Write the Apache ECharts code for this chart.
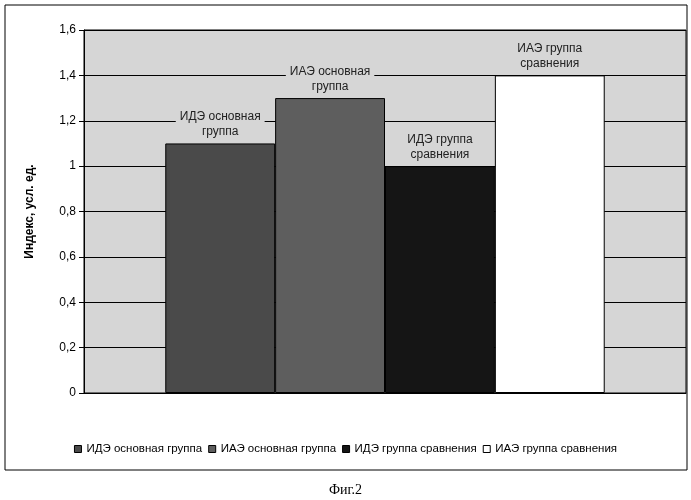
<!DOCTYPE html>
<html><head><meta charset="utf-8">
<script src="https://cdn.jsdelivr.net/npm/echarts@6/dist/echarts.min.js"></script>
<style>html,body{margin:0;padding:0;background:#fff}#c{width:691px;height:500px}</style>
</head><body><div id="c"></div>
<script>
const seriesNames = ['ИДЭ основная группа','ИАЭ основная группа','ИДЭ группа сравнения','ИАЭ группа сравнения'];
const labelTexts = ['ИДЭ основная\nгруппа','ИАЭ основная\nгруппа','ИДЭ группа\nсравнения','ИАЭ группа\nсравнения'];
const values = [1.1, 1.3, 1.0, 1.4];
const colors = ['#4a4a4a','#5e5e5e','#151515','#ffffff'];
const yTicks = [0,0.2,0.4,0.6,0.8,1,1.2,1.4,1.6];
const chart = echarts.init(document.getElementById('c'));
chart.setOption({
  animation:false,
  textStyle:{fontFamily:'Liberation Sans'},
  graphic:[{type:'rect',shape:{x:5,y:5,width:682,height:465},style:{fill:null,stroke:'#000',lineWidth:1}}],
  title:{text:'Фиг.2',left:'center',top:478,textStyle:{fontFamily:'Liberation Serif',fontWeight:'normal',fontSize:14,color:'#000'}},
  legend:{bottom:40,left:'center',itemWidth:7,itemHeight:7,itemGap:6,icon:'rect',
    textStyle:{fontSize:11.5,color:'#000'},
    itemStyle:{borderColor:'#000',borderWidth:1},
    data:seriesNames},
  grid:{left:84,right:5,top:30,bottom:107,show:true,backgroundColor:'#d6d6d6',borderColor:'#000',borderWidth:1},
  xAxis:{type:'category',data:[''],axisTick:{show:false},axisLabel:{show:false},axisLine:{lineStyle:{color:'#000'}}},
  yAxis:{type:'value',min:0,max:1.6,interval:0.2,
    name:'Индекс, усл. ед.',nameLocation:'middle',nameGap:48,nameRotate:90,
    nameTextStyle:{fontWeight:'bold',fontSize:12,color:'#000'},
    axisLine:{show:true,lineStyle:{color:'#000'}},axisTick:{show:true,lineStyle:{color:'#000'}},
    axisLabel:{color:'#000',fontSize:12,formatter:v=>{const t=yTicks.find(x=>Math.abs(x-v)<1e-6);return String(t!==undefined?t:v).replace('.',',');}},
    splitLine:{lineStyle:{color:'#000'}}},
  series:seriesNames.map((n,i)=>({name:n,type:'bar',data:[values[i]],barGap:'0%',barCategoryGap:'27%',
    itemStyle:{color:colors[i],borderColor:'#000',borderWidth:1},
    label:{show:true,position:'top',formatter:labelTexts[i],color:'#222',fontSize:12,lineHeight:15,distance:2,
      backgroundColor:'#d6d6d6',padding:[2,4]}}))
});
</script></body></html>
